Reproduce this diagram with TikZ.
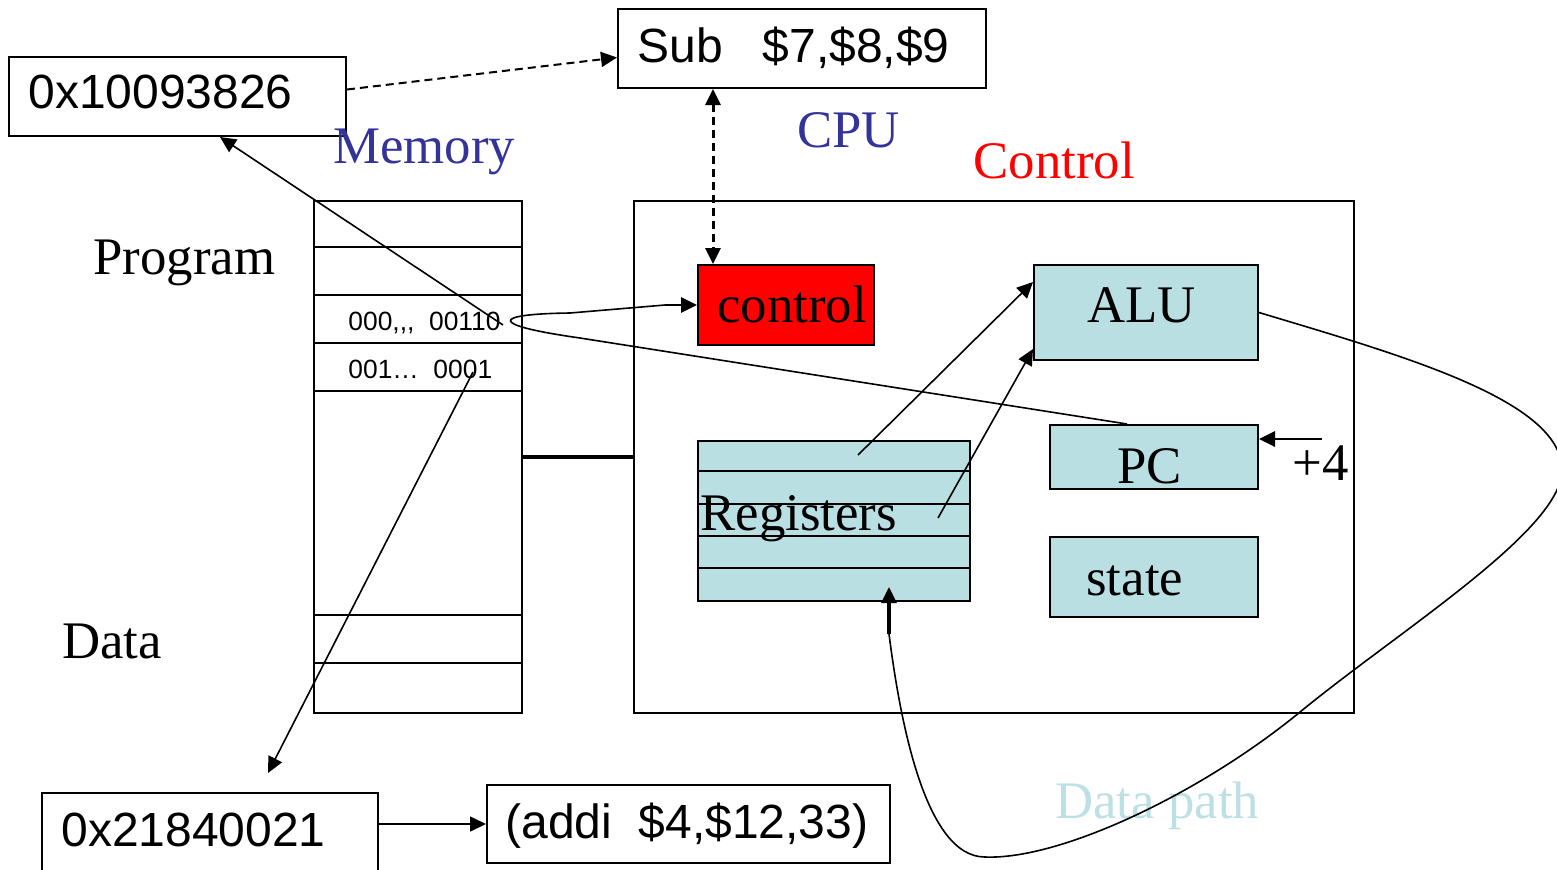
\documentclass[tikz,border=0pt]{standalone}
\usepackage{fontspec}
\setmainfont{Liberation Serif}
\newfontfamily\arialfont{Liberation Sans}
\usetikzlibrary{arrows.meta,calc}
\definecolor{regblue}{HTML}{B9DFE3}
\definecolor{memblue}{HTML}{333399}
\definecolor{dpblue}{HTML}{BCE0E4}
\begin{document}
\begin{tikzpicture}[x=0.5pt,y=-0.5pt,
  box/.style={draw, line width=1pt, inner sep=0pt, anchor=north west},
  fbox/.style={box, fill=regblue},
  txt/.style={inner sep=0pt, anchor=base west},
  serif/.style={txt, font=\fontsize{26.4}{30}\selectfont},
  sansbig/.style={txt, font=\arialfont\fontsize{24}{28}\selectfont},
  sanssmall/.style={txt, font=\arialfont\fontsize{13.2}{16}\selectfont},
  memline/.style={line width=1.4pt},
  tip/.style={-{Triangle[length=8pt,width=7.5pt]}},
  conn/.style={line width=0.8pt, tip},
  dashconn/.style={conn, line width=1pt, dash pattern=on 4pt off 2.5pt},
]
\useasboundingbox (0,0) rectangle (1557,869);
\clip (0,0) rectangle (1557,869);

% boxes
\node[box, minimum width=168.5pt, minimum height=39.5pt] (addr) at (8,56) {};
\node[box, minimum width=184pt, minimum height=39.5pt] (sub) at (617,8) {};
\node[box, minimum width=104pt, minimum height=256pt] (mem) at (313,200) {};
\node[box, minimum width=360pt, minimum height=256pt] (cpu) at (633,200) {};
\node[box, fill=red, minimum width=88pt, minimum height=40pt] (ctl) at (697,264) {};
\node[fbox, minimum width=112pt, minimum height=47.5pt] (alu) at (1033,264) {};
\node[fbox, minimum width=104pt, minimum height=32pt] (pc) at (1049,424) {};
\node[fbox, minimum width=104pt, minimum height=40pt] (state) at (1049,536) {};
\node[fbox, minimum width=136pt, minimum height=80pt] (regs) at (697,440) {};
\node[box, minimum width=168pt, minimum height=44pt] (addr2) at (41,792) {};
\node[box, minimum width=201.5pt, minimum height=39pt] (addi) at (486,784) {};

% memory rows
\foreach \yy in {247,295,343,391,615,663}
  \draw[memline] (313,\yy) -- (521,\yy);
% register rows
\foreach \yy in {471,504,536,568}
  \draw[memline] (697,\yy) -- (969,\yy);

% bus
\draw[line width=2pt] (mem.east) -- (cpu.west);

% texts
\node[sansbig] (taddr) at (28,108) {0x10093826};
\node[sansbig] (tsub) at (637,62) {Sub\ \ \ \$7,\$8,\$9};
\node[serif, text=memblue] (tmem) at (333,163) {Memory};
\node[serif, text=memblue] (tcpu) at (797,147) {CPU};
\node[serif, text=red] (tcontrol) at (973,178) {Control};
\node[serif] (tprog) at (93,274) {Program};
\node[serif] (tctl) at (717,322) {control};
\node[serif] (talu) at (1087,322) {ALU};
\node[sanssmall] (trow1) at (348,330) {000,,,\ \ 00110};
\node[sanssmall] (trow2) at (348,378) {001\ldots\ \ 0001};
\node[serif] (tpc) at (1117,483) {PC};
\node[serif] (tplus) at (1292,480) {+4};
\node[serif] (tregs) at (700,530) {Registers};
\node[serif] (tstate) at (1086,595) {state};
\node[serif] (tdata) at (62,658) {Data};
\node[serif, text=dpblue] (tdp) at (1055,818) {Data path};
\node[sansbig] (taddr2) at (61,846) {0x21840021};
\node[sansbig] (taddi) at (505,838) {(addi\ \ \$4,\$12,33)};

% coordinates for free ends
\coordinate (cv) at ($(ctl.north west)+(16,0)$);
\coordinate (rowA) at (503,325);
\coordinate (rowB) at (473,372);
\coordinate (addrIn) at ($(addr.south west)+(212,0)$);
\coordinate (addr2In) at ($(addr2.north west)+(227,-19)$);
\coordinate (r1) at ($(regs.north west)+(161,15)$);
\coordinate (r2) at ($(regs.north west)+(241,78)$);
\coordinate (a1) at ($(alu.north west)+(0,18)$);
\coordinate (a2) at ($(alu.south west)+(0,-12)$);
\coordinate (pcTop) at ($(pc.north west)+(78,0)$);
\coordinate (pcIn) at ($(pc.north east)+(0,15)$);
\coordinate (plusEnd) at ($(pcIn)+(63,0)$);
\coordinate (regIn) at ($(regs.south west)+(192,-15)$);
\coordinate (regFoot) at ($(regs.south west)+(192,32)$);
\coordinate (ctlFoot) at ($(ctl.west)+(-32,0)$);

% connectors
\draw[dashconn] ([yshift=3.5pt]addr.east) -- ([yshift=-4.5pt]sub.west);
\draw[dashconn, line width=1.5pt, {Triangle[length=8pt,width=7.5pt]}-{Triangle[length=8pt,width=7.5pt]}] (sub.south -| cv) -- (cv);
\draw[conn] (rowA) -- (addrIn);
\draw[conn] (rowB) -- (addr2In);
\draw[conn] (addr2.east |- addi.west) -- (addi.west);
\draw[conn] (r1) -- (a1);
\draw[conn] (r2) -- (a2);
\draw[conn, line width=1.4pt] (plusEnd) -- (pcIn);
\draw[line width=0.8pt] (pcTop) -- (580,338) .. controls (488,325) and (490,314) .. (570,313) -- (ctlFoot);
\draw[conn, line width=1.4pt] (ctlFoot) -- (ctl.west);
\draw[line width=0.8pt] (alu.east) .. controls (1400,355) and (1562,400) .. (1562,470)
  .. controls (1562,530) and (1400,630) .. (1300,712)
  .. controls (1200,794) and (1060,860) .. (985,857)
  .. controls (925,857) and (900,720) .. (regFoot);
\draw[conn, line width=1.6pt] (regFoot) -- (regIn);
\end{tikzpicture}
\end{document}
